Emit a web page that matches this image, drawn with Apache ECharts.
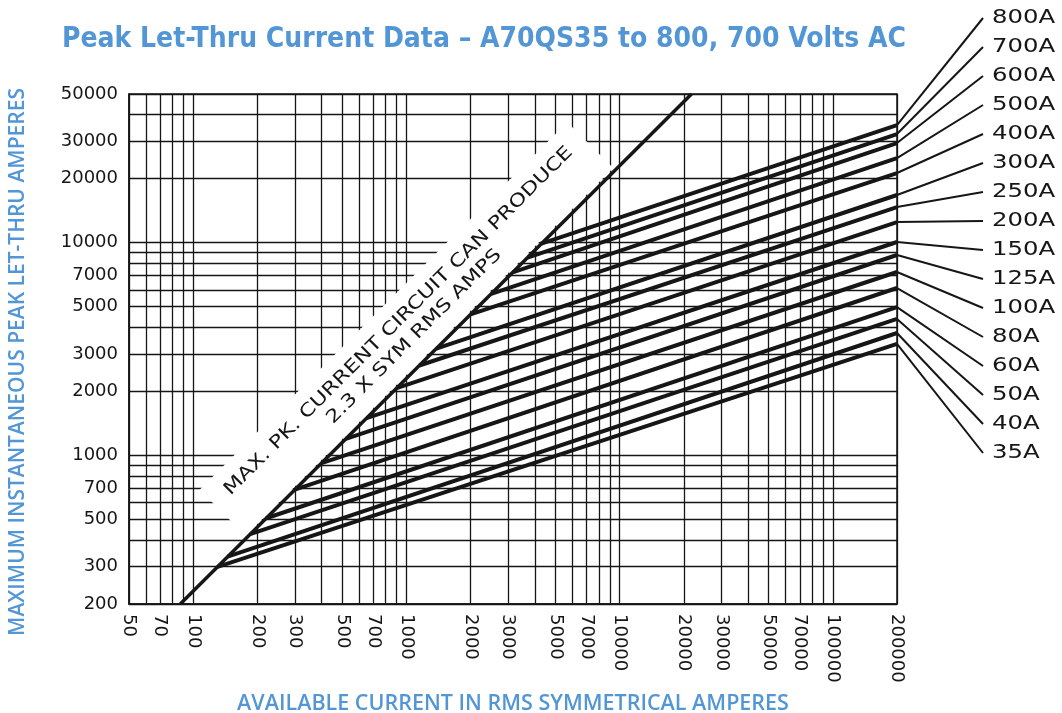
<!DOCTYPE html>
<html>
<head>
<meta charset="utf-8">
<title>Peak Let-Thru Current Data</title>
<script src="https://cdn.jsdelivr.net/npm/echarts@6/dist/echarts.min.js"></script>
<style>
html, body { margin: 0; padding: 0; background: #fff; }
#chart { width: 1062px; height: 713px; }
</style>
</head>
<body>
<div id="chart"></div>
<script>
// fuse ratings, top to bottom as they are labelled on the right
var fuseRatings = ['800A', '700A', '600A', '500A', '400A', '300A', '250A', '200A',
                   '150A', '125A', '100A', '80A', '60A', '50A', '40A', '35A'];
// rms amps / peak amps where each curve leaves the 2.3x line
var thresholdAmps = [4300, 3700, 3150, 2500, 2000, 1380, 1150, 900, 650, 520, 400, 300, 220, 185, 145, 130];
var thresholdPeak = [9890, 8510, 7245, 5750, 4600, 3174, 2645, 2070, 1495, 1196, 920, 690, 506, 426, 334, 299];
// peak let-thru at 200000 rms amps
var peakAt200k = [35700, 32400, 29400, 25000, 21250, 16750, 14700, 12500, 10070, 8750, 7280, 6120, 4980, 4380, 3760, 3340];

// max peak the circuit can produce (2.3 x rms)
var maxLineAmps = [87, 21740];
var maxLinePeak = [200, 50000];

var xTickLabels = [50, 70, 100, 200, 300, 500, 700, 1000, 2000, 3000, 5000, 7000,
                   10000, 20000, 30000, 50000, 70000, 100000, 200000];
var yTickLabels = [200, 300, 500, 700, 1000, 2000, 3000, 5000, 7000, 10000, 20000, 30000, 50000];

// log paper rulings: 1..9 in every decade
function ruling(min, max) {
    var out = [];
    for (var d = 10; d <= max; d *= 10) {
        for (var k = 1; k < 10; k++) {
            var v = d * k;
            if (v >= min && v <= max) out.push(v);
        }
    }
    return out;
}
var xGrid = ruling(50, 200000);
var yGrid = ruling(200, 50000);

var BLUE = '#5396d6';
var INK = '#161616';
var LABEL_X = 992, LEADER_X = 983, LABEL_TOP = 18, LABEL_STEP = 29;

var myChart = echarts.init(document.getElementById('chart'));

var series = [];
fuseRatings.forEach(function (name, i) {
    series.push({
        name: name,
        type: 'line',
        data: [[thresholdAmps[i], thresholdPeak[i]], [200000, peakAt200k[i]]],
        showSymbol: false,
        silent: true,
        lineStyle: { color: INK, width: 4 },
        z: 3
    });
});

series.push({
    name: 'max',
    type: 'line',
    data: [[maxLineAmps[0], maxLinePeak[0]], [maxLineAmps[1], maxLinePeak[1]]],
    showSymbol: false,
    silent: true,
    lineStyle: { color: INK, width: 3.5 },
    z: 6
});

// caption along the 2.3x line
series.push({
    type: 'custom',
    silent: true,
    z: 5,
    data: [[1307, 3007]],
    renderItem: function (params, api) {
        var p = api.coord([api.value(0), api.value(1)]);
        var off = 35 / Math.SQRT2;
        return {
            type: 'text',
            x: p[0] - off,
            y: p[1] - off,
            rotation: Math.PI / 4,
            scaleX: 1.25,
            style: {
                text: 'MAX. PK. CURRENT CIRCUIT CAN PRODUCE\n2.3 X SYM RMS AMPS',
                font: '18px "DejaVu Sans"',
                lineHeight: 22,
                fill: INK,
                align: 'center',
                verticalAlign: 'middle',
                backgroundColor: '#fff',
                padding: [12, 14, 9, 14]
            }
        };
    }
});

// leader lines and rating labels
series.push({
    type: 'custom',
    silent: true,
    z: 6,
    data: peakAt200k.map(function (v, i) { return [200000, v, i]; }),
    renderItem: function (params, api) {
        var i = api.value(2);
        var p = api.coord([api.value(0), api.value(1)]);
        var ly = LABEL_TOP + i * LABEL_STEP;
        return {
            type: 'group',
            children: [{
                type: 'line',
                shape: { x1: p[0], y1: p[1], x2: LEADER_X, y2: ly },
                style: { stroke: INK, lineWidth: 2 }
            }, {
                type: 'text',
                x: LABEL_X,
                y: ly,
                scaleX: 1.22,
                style: {
                    text: fuseRatings[i],
                    font: '20px "DejaVu Sans"',
                    fill: INK,
                    align: 'left',
                    verticalAlign: 'middle'
                }
            }]
        };
    }
});

var option = {
    backgroundColor: '#fff',
    animation: false,
    title: {
        text: 'Peak Let-Thru Current Data \u2013 A70QS35 to 800, 700 Volts AC',
        left: 57,
        top: 21,
        textStyle: {
            color: BLUE,
            fontSize: 28,
            fontWeight: 'bold',
            fontFamily: '"DejaVu Sans Condensed", "Open Sans"'
        }
    },
    grid: {
        left: 129,
        top: 94,
        width: 768,
        height: 510,
        outerBoundsMode: 'none',
        show: true,
        borderColor: INK,
        borderWidth: 1.5,
        backgroundColor: 'transparent'
    },
    xAxis: {
        type: 'log',
        logBase: 10,
        min: 50,
        max: 200000,
        name: 'AVAILABLE CURRENT IN RMS SYMMETRICAL AMPERES',
        nameLocation: 'middle',
        nameGap: 89,
        nameTextStyle: { color: BLUE, fontSize: 21.5, fontWeight: 600, fontFamily: '"Open Sans"' },
        axisLine: { lineStyle: { color: INK, width: 1.5 } },
        axisTick: { show: false, customValues: xGrid },
        splitLine: { show: true, lineStyle: { color: INK, width: 1.3, opacity: 1 } },
        axisLabel: {
            customValues: xTickLabels,
            rotate: -90,
            margin: 10,
            color: INK,
            fontSize: 18,
            fontFamily: '"DejaVu Sans"',
            formatter: function (v) { return String(Math.round(v)); }
        }
    },
    yAxis: {
        type: 'log',
        logBase: 10,
        min: 200,
        max: 50000,
        name: 'MAXIMUM INSTANTANEOUS PEAK LET-THRU AMPERES',
        nameLocation: 'middle',
        nameGap: 100,
        nameTextStyle: { color: BLUE, fontSize: 21, fontWeight: 600, fontFamily: '"Open Sans"', padding: [0, 26, 0, 0] },
        axisLine: { lineStyle: { color: INK, width: 1.5 } },
        axisTick: { show: false, customValues: yGrid },
        splitLine: { show: true, lineStyle: { color: INK, width: 1.3, opacity: 1 } },
        axisLabel: {
            customValues: yTickLabels,
            margin: 11,
            color: INK,
            fontSize: 18,
            fontFamily: '"DejaVu Sans"',
            formatter: function (v) { return String(Math.round(v)); }
        }
    },
    series: series
};

initEchart(myChart, option);

function initEchart(chart, opt) {
    chart.setOption(opt);
    window.addEventListener('resize', function () {
        chart.resize();
    });
}
</script>
</body>
</html>
